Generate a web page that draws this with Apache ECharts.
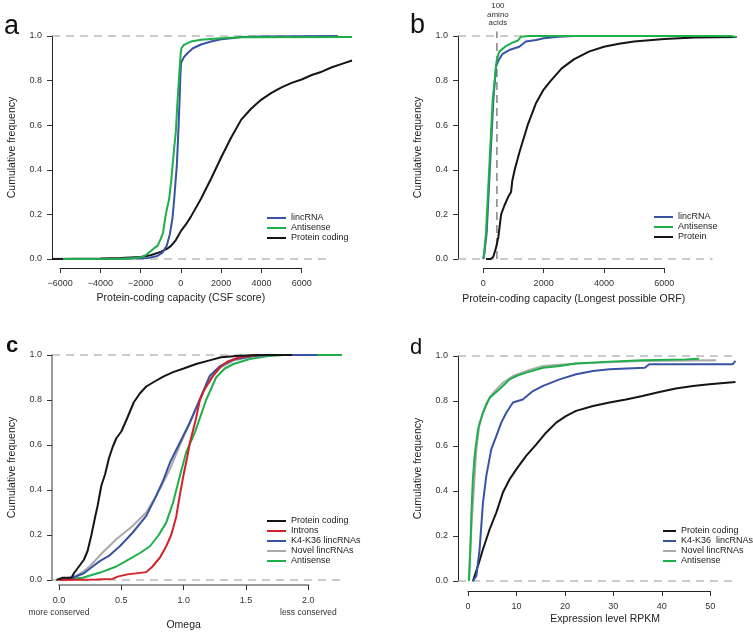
<!DOCTYPE html>
<html>
<head>
<meta charset="utf-8">
<script src="https://cdn.jsdelivr.net/npm/echarts@6/dist/echarts.min.js"></script>
<style>
  html, body { margin: 0; padding: 0; background: #fff; }
  #main { width: 753px; height: 632px; }
</style>
</head>
<body>
<div id="main"></div>
<script>
var FONT = '"Liberation Sans", Arial, sans-serif';

var BLUE = '#3953a4', GREEN = '#1daf4a', BLACK = '#151515', RED = '#d3222a', GRAY = '#a9a9a9';

// a - CSF score
var csfLinc = [[-5800,0],[-3000,0.001],[-2000,0.003],[-1600,0.005],[-1200,0.012],[-900,0.03],[-700,0.06],[-550,0.11],[-420,0.18],[-330,0.27],[-200,0.42],[-120,0.58],[-60,0.72],[-20,0.83],[10,0.88],[150,0.905],[350,0.925],[600,0.945],[1000,0.962],[1500,0.975],[2000,0.985],[2500,0.99],[3000,0.995],[4000,0.998],[7800,1.0]];
var csfAntisense = [[-5850,0],[-3000,0.001],[-2200,0.004],[-1900,0.01],[-1700,0.02],[-1500,0.035],[-1300,0.05],[-1150,0.06],[-1000,0.09],[-880,0.12],[-750,0.2],[-580,0.27],[-480,0.35],[-410,0.42],[-330,0.5],[-250,0.57],[-165,0.71],[-100,0.8],[-50,0.87],[-10,0.92],[30,0.945],[150,0.96],[500,0.975],[1000,0.983],[2000,0.99],[3000,0.994],[8500,0.995]];
var csfProtein = [[-6400,0],[-4000,0.002],[-3000,0.004],[-2000,0.009],[-1500,0.017],[-1000,0.032],[-700,0.045],[-500,0.058],[-250,0.085],[0,0.125],[250,0.155],[500,0.19],[1000,0.27],[1500,0.36],[2000,0.455],[2500,0.545],[3000,0.625],[3500,0.675],[4000,0.715],[4500,0.745],[5000,0.77],[5500,0.79],[6000,0.805],[6500,0.825],[7000,0.84],[7500,0.86],[8000,0.875],[8500,0.89]];

// b - longest possible ORF
var orfLinc = [[0,0],[30,0.02],[110,0.116],[221,0.415],[332,0.713],[420,0.863],[500,0.89],[640,0.92],[860,0.937],[1190,0.952],[1410,0.975],[1750,0.982],[2000,0.99],[2500,0.997],[3000,1.0],[8000,1.0]];
var orfAntisense = [[0,0],[20,0.02],[88,0.116],[199,0.415],[310,0.713],[376,0.8],[442,0.89],[530,0.93],[750,0.955],[970,0.97],[1150,0.98],[1250,0.997],[1500,1.0],[8200,1.0],[8400,0.995]];
var orfProtein = [[90,0],[250,0],[330,0.01],[420,0.05],[500,0.1],[590,0.2],[700,0.24],[830,0.28],[920,0.3],[960,0.35],[1040,0.4],[1200,0.48],[1470,0.6],[1750,0.7],[2000,0.76],[2240,0.8],[2600,0.855],[3000,0.895],[3500,0.93],[4000,0.952],[4500,0.965],[5000,0.975],[6000,0.987],[7000,0.993],[8400,0.995]];
var orfCutoff = 450; // 100 amino acids

// c - omega
var omegaProtein = [[-0.02,0],[0.03,0.01],[0.1,0.01],[0.12,0.03],[0.16,0.06],[0.2,0.09],[0.23,0.13],[0.26,0.2],[0.29,0.28],[0.31,0.33],[0.34,0.42],[0.37,0.47],[0.4,0.54],[0.43,0.59],[0.46,0.63],[0.5,0.66],[0.54,0.71],[0.6,0.79],[0.65,0.83],[0.7,0.86],[0.76,0.88],[0.84,0.905],[0.92,0.925],[1.0,0.94],[1.1,0.96],[1.2,0.975],[1.3,0.99],[1.45,0.997],[1.6,1.0],[1.87,1.0]];
var omegaIntrons = [[0,0],[0.3,0.002],[0.43,0.005],[0.47,0.015],[0.55,0.025],[0.7,0.035],[0.75,0.06],[0.81,0.1],[0.86,0.15],[0.9,0.2],[0.94,0.28],[0.97,0.38],[1.0,0.47],[1.03,0.55],[1.05,0.61],[1.1,0.72],[1.13,0.8],[1.16,0.84],[1.24,0.91],[1.3,0.95],[1.35,0.97],[1.45,0.99],[1.6,1.0],[1.7,1.0]];
var omegaK4 = [[0,0],[0.11,0.01],[0.2,0.03],[0.27,0.06],[0.33,0.085],[0.4,0.107],[0.49,0.151],[0.59,0.21],[0.7,0.285],[0.78,0.374],[0.84,0.448],[0.89,0.522],[0.97,0.611],[1.05,0.7],[1.13,0.804],[1.21,0.908],[1.29,0.95],[1.4,0.98],[1.56,0.995],[1.7,1.0],[2.07,1.0]];
var omegaNovel = [[0,0],[0.14,0.018],[0.2,0.04],[0.25,0.062],[0.35,0.122],[0.46,0.181],[0.59,0.24],[0.7,0.3],[0.81,0.404],[0.89,0.493],[0.97,0.6],[1.05,0.7],[1.13,0.8],[1.2,0.89],[1.28,0.94],[1.4,0.975],[1.55,0.993],[1.7,1.0],[2.0,1.0]];
var omegaAntisense = [[0,0],[0.19,0.01],[0.33,0.033],[0.46,0.06],[0.54,0.085],[0.65,0.12],[0.73,0.15],[0.8,0.2],[0.86,0.255],[0.915,0.344],[0.97,0.463],[1.02,0.567],[1.09,0.656],[1.18,0.8],[1.26,0.9],[1.33,0.94],[1.4,0.96],[1.53,0.982],[1.665,0.994],[1.8,1.0],[2.27,1.0]];

// d - RPKM
var rpkmProtein = [[1.03,0],[2.06,0.067],[3.09,0.141],[4.47,0.23],[5.84,0.304],[7.2,0.393],[8.6,0.452],[9.96,0.496],[12,0.556],[14.1,0.607],[16.1,0.659],[18.2,0.704],[20.2,0.733],[22.3,0.756],[25.8,0.778],[29.2,0.793],[32.6,0.807],[36,0.822],[39.5,0.84],[42.9,0.856],[46.4,0.867],[49.8,0.874],[55.2,0.884]];
var rpkmK4 = [[1.03,0],[1.72,0.022],[2.4,0.141],[3.09,0.348],[3.78,0.467],[4.8,0.585],[5.84,0.644],[6.87,0.704],[7.9,0.748],[9.27,0.793],[11.3,0.807],[13.4,0.844],[15.5,0.867],[18.9,0.896],[22.3,0.919],[25.8,0.933],[29.2,0.941],[36.5,0.948],[37.4,0.963],[54.6,0.963],[55.2,0.978]];
var rpkmNovel = [[0.2,0],[0.6,0.2],[1.03,0.348],[1.72,0.585],[2.4,0.704],[3.78,0.79],[5.15,0.835],[7.2,0.881],[9.27,0.911],[12,0.933],[15.5,0.956],[22.3,0.967],[36,0.978],[51.2,0.981]];
var rpkmAntisense = [[0.2,0],[0.5,0.15],[0.69,0.29],[1.0,0.45],[1.37,0.556],[2.06,0.674],[3.09,0.748],[4.47,0.815],[5.84,0.84],[7.2,0.867],[8.6,0.896],[9.96,0.911],[12,0.926],[15.5,0.948],[18.9,0.956],[22.3,0.967],[29.2,0.975],[36,0.981],[45,0.985],[47.7,0.988]];

var yTicks = [0, 1, 0.2];

function minusFmt(v) { return v < 0 ? '\u2212' + Math.abs(v) : String(v); }

// layout of the four panels (pixels) + the series drawn in each
var panels = [
    {letter: 'a', lx: 4, base: 35.7, lsize: 27, lbold: false,
     left: 52, right: 352, top: 36, zero: 259, axisY: 268,
     xMin: -6400, xMax: 8500, ticks: [-6000, 6000, 2000], dashEnd: 7400,
     xName: 'Protein-coding capacity (CSF score)', nameGap: 25, namePad: 0, fmt: minusFmt,
     axisColor: '#222', axisWidth: 1,
     legend: {left: 267, top: 213, w: 19, names: ['lincRNA', 'Antisense', 'Protein coding']},
     series: [['Protein coding', csfProtein, BLACK], ['lincRNA', csfLinc, BLUE], ['Antisense', csfAntisense, GREEN]]},
    {letter: 'b', lx: 410, base: 35, lsize: 27, lbold: false,
     left: 458, right: 736, top: 36, zero: 259, axisY: 268,
     xMin: -840, xMax: 8380, ticks: [0, 6000, 2000], dashEnd: 7600,
     xName: 'Protein-coding capacity (Longest possible ORF)', nameGap: 26, namePad: 0, fmt: minusFmt,
     axisColor: '#222', axisWidth: 1,
     legend: {left: 654, top: 212, w: 19, names: ['lincRNA', 'Antisense', 'Protein']},
     series: [['Protein', orfProtein, BLACK], ['lincRNA', orfLinc, BLUE], ['Antisense', orfAntisense, GREEN]]},
    {letter: 'c', lx: 6, base: 353.3, lsize: 22, lbold: true,
     left: 52, right: 342, top: 355, zero: 580, axisY: 590,
     xMin: -0.056, xMax: 2.27, ticks: [0, 2, 0.5], dashEnd: 2.27,
     xName: 'Omega', nameGap: 24, namePad: 0,
     fmt: function (v) {
         var t = v.toFixed(1);
         if (v === 0) return t + '\n{s|more conserved}';
         if (v === 2) return t + '\n{s|less conserved}';
         return t;
     },
     axisColor: '#9a9a9a', axisWidth: 2,
     legend: {left: 267, top: 516, w: 19, names: ['Protein coding', 'Introns', 'K4-K36 lincRNAs', 'Novel lincRNAs', 'Antisense']},
     series: [['Antisense', omegaAntisense, GREEN], ['Novel lincRNAs', omegaNovel, GRAY], ['K4-K36 lincRNAs', omegaK4, BLUE],
              ['Introns', omegaIntrons, RED], ['Protein coding', omegaProtein, BLACK]]},
    {letter: 'd', lx: 410, base: 355.3, lsize: 22, lbold: false,
     left: 458, right: 735.5, top: 356, zero: 581, axisY: 591,
     xMin: -2.06, xMax: 55.2, ticks: [0, 50, 10], dashEnd: 55,
     xName: 'Expression level RPKM', nameGap: 23, namePad: 32, fmt: minusFmt,
     axisColor: '#222', axisWidth: 1,
     legend: {left: 663, top: 526, w: 13, names: ['Protein coding', 'K4-K36  lincRNAs', 'Novel lincRNAs', 'Antisense']},
     series: [['Protein coding', rpkmProtein, BLACK], ['K4-K36  lincRNAs', rpkmK4, BLUE], ['Novel lincRNAs', rpkmNovel, GRAY], ['Antisense', rpkmAntisense, GREEN]]}
];

var grid = [], xAxis = [], yAxis = [], series = [], legend = [], graphic = [];

panels.forEach(function (p, k) {
    var gi = k * 2;
    var w = p.right - p.left;
    function px(v) { return p.left + (v - p.xMin) / (p.xMax - p.xMin) * w; }

    // plotting region
    grid.push({left: p.left, top: p.top, width: w, height: p.zero - p.top, containLabel: false});
    // separate, offset x axis spanning first to last tick
    var aL = px(p.ticks[0]), aR = px(p.ticks[1]);
    grid.push({left: aL, top: p.axisY - 10, width: aR - aL, height: 10, containLabel: false});

    xAxis.push({gridIndex: gi, type: 'value', min: p.xMin, max: p.xMax, show: false});
    xAxis.push({
        gridIndex: gi + 1, type: 'value', min: p.ticks[0], max: p.ticks[1], interval: p.ticks[2],
        splitLine: {show: false},
        axisLine: {show: true, onZero: false, lineStyle: {color: p.axisColor, width: p.axisWidth}},
        axisTick: {show: true, length: 5, lineStyle: {color: '#333', width: 1}},
        axisLabel: {margin: 9, fontSize: 9, color: '#333', fontFamily: FONT, formatter: p.fmt,
                    lineHeight: 12.5, showMinLabel: true, showMaxLabel: true,
                    rich: {s: {fontSize: 8.5, color: '#333', fontFamily: FONT, lineHeight: 12.5}}},
        name: p.xName, nameLocation: 'middle', nameGap: p.nameGap,
        nameTextStyle: {fontSize: 10.5, color: '#222', fontFamily: FONT, padding: [0, 0, 0, p.namePad]}
    });

    yAxis.push({
        gridIndex: gi, type: 'value', min: yTicks[0], max: yTicks[1], interval: yTicks[2],
        splitLine: {show: false},
        axisLine: {show: true, onZero: false, lineStyle: {color: p.axisColor, width: p.axisWidth}},
        axisTick: {show: true, length: 5, lineStyle: {color: '#333', width: 1}},
        axisLabel: {margin: 10, fontSize: 9, color: '#333', fontFamily: FONT,
                    formatter: function (v) { return v.toFixed(1); }},
        name: 'Cumulative frequency', nameLocation: 'middle', nameGap: 34,
        nameTextStyle: {fontSize: 10.5, color: '#222', fontFamily: FONT}
    });
    yAxis.push({gridIndex: gi + 1, type: 'value', min: 0, max: 1, show: false});

    // dashed reference levels at 0 and 1
    [0, 1].forEach(function (lvl) {
        series.push({
            type: 'line', xAxisIndex: gi, yAxisIndex: gi, silent: true, symbol: 'none', clip: false,
            lineStyle: {color: '#9a9a9a', width: 1.2, type: [8, 6]},
            data: [[p.xMin, lvl], [p.dashEnd, lvl]]
        });
    });
    if (p.letter === 'b') {
        series.push({
            type: 'line', xAxisIndex: gi, yAxisIndex: gi, silent: true, symbol: 'none', clip: false,
            lineStyle: {color: '#8a8a8a', width: 1.6, type: [8, 5]},
            data: [[orfCutoff, 0], [orfCutoff, 1.02]]
        });
        graphic.push({type: 'text', x: px(orfCutoff) + 1, y: 2,
            style: {text: '100\namino\nacids', fontSize: 8, lineHeight: 8.4, fill: '#333',
                    fontFamily: FONT, align: 'center', verticalAlign: 'top'}});
    }

    p.series.forEach(function (s) {
        series.push({
            name: s[0], type: 'line', xAxisIndex: gi, yAxisIndex: gi, symbol: 'none', showSymbol: false,
            clip: false, silent: true, data: s[1],
            lineStyle: {color: s[2], width: 2}, itemStyle: {color: s[2]}
        });
    });

    legend.push({
        orient: 'vertical', left: p.legend.left, top: p.legend.top, data: p.legend.names,
        icon: 'rect', itemWidth: p.legend.w, itemHeight: 2, itemGap: 0, itemTextGap: 6,
        selectedMode: false, padding: 0,
        textStyle: {fontSize: 9, lineHeight: 10, color: '#222', fontFamily: FONT}
    });

    // panel letter, placed by its baseline
    graphic.push({type: 'text', x: p.lx, y: p.base - 0.35 * p.lsize,
        style: {text: p.letter, fontSize: p.lsize, fontWeight: p.lbold ? 'bold' : 'normal',
                fill: '#111', fontFamily: FONT, verticalAlign: 'middle'}});
});

var chart = echarts.init(document.getElementById('main'), null, {renderer: 'canvas'});
chart.setOption({
    animation: false,
    backgroundColor: '#fff',
    grid: grid,
    xAxis: xAxis,
    yAxis: yAxis,
    legend: legend,
    graphic: graphic,
    series: series
});
</script>
</body>
</html>
